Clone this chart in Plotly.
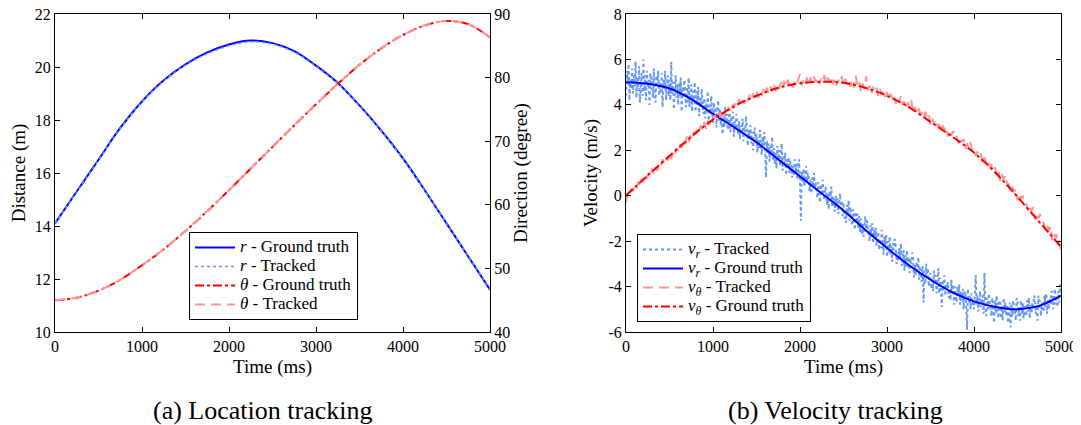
import plotly.graph_objects as go

# time grid for the smooth (ground truth) curves, ms
t_gt = [0, 250, 500, 750, 1000, 1250, 1500, 1750, 2000, 2250, 2500,
        2750, 3000, 3250, 3500, 3750, 4000, 4250, 4500, 4750, 5000]

# (a) location
r_gt = [14.1, 15.3, 16.5, 17.7, 18.7, 19.5, 20.1, 20.55, 20.85, 21.0, 20.9,
        20.6, 20.05, 19.4, 18.55, 17.6, 16.55, 15.35, 14.1, 12.85, 11.6]
r_tracked = [14.1, 15.28, 16.48, 17.68, 18.68, 19.47, 20.07, 20.5, 20.8, 20.95, 20.86,
             20.56, 20.02, 19.38, 18.53, 17.58, 16.53, 15.34, 14.1, 12.86, 11.62]
theta_gt = [45.0, 45.4, 46.5, 48.2, 50.5, 53.0, 55.9, 59.0, 62.3, 65.7, 69.1,
            72.5, 75.8, 79.0, 82.0, 84.6, 86.7, 88.2, 88.9, 88.4, 86.3]
theta_tracked = [45.0, 45.42, 46.5, 48.22, 50.5, 53.02, 55.9, 59.02, 62.3, 65.72, 69.1,
                 72.52, 75.8, 79.02, 82.0, 84.62, 86.7, 88.22, 88.9, 88.42, 86.3]

# (b) velocity
vr_gt = [5.0, 4.93, 4.72, 4.25, 3.6, 3.0, 2.35, 1.6, 0.85, 0.1, -0.65,
         -1.5, -2.3, -3.05, -3.7, -4.25, -4.65, -4.9, -5.0, -4.85, -4.4]
vt_gt = [0.0, 0.9, 1.75, 2.6, 3.35, 3.95, 4.4, 4.75, 4.95, 5.02, 4.97,
         4.75, 4.4, 3.9, 3.25, 2.6, 1.9, 1.0, -0.05, -1.15, -2.25]

# tracked radial velocity (one value every 10 ms)
t_vr = [i * 10 for i in range(501)]
vr_tracked = [
    4.4, 5.5, 4.9, 5.8, 4.2, 5.1, 4.7, 5.6, 4.5, 5.3,
    4.8, 5.9, 4.3, 5.2, 4.6, 5.7, 4.1, 5.0, 5.4, 4.4,
    6.0, 4.6, 5.3, 4.2, 5.5, 4.8, 5.1, 4.0, 5.4, 4.7,
    5.2, 4.3, 5.6, 4.7, 4.1, 5.3, 4.9, 5.5, 4.4, 5.0,
    4.5, 5.4, 3.9, 5.1, 4.7, 5.5, 4.2, 4.9, 5.3, 4.4,
    5.1, 4.2, 5.9, 4.5, 5.0, 3.8, 4.8, 5.3, 4.3, 4.9,
    4.0, 5.0, 4.4, 5.2, 3.7, 4.8, 4.3, 5.1, 4.6, 3.9,
    4.8, 4.1, 5.2, 3.9, 4.5, 4.9, 3.7, 4.6, 4.2, 5.0,
    3.7, 4.6, 4.0, 4.8, 3.5, 4.3, 3.9, 4.7, 4.1, 3.6,
    4.3, 3.4, 4.1, 3.7, 4.6, 3.3, 4.0, 3.6, 4.4, 3.8,
    3.2, 4.1, 3.5, 3.9, 3.0, 3.7, 4.2, 3.3, 3.8, 3.1,
    3.7, 2.7, 3.5, 3.0, 3.9, 3.2, 3.6, 2.9, 3.4, 3.8,
    2.8, 3.5, 3.0, 3.7, 2.6, 3.3, 2.9, 3.6, 3.1, 2.7,
    3.3, 2.5, 3.1, 2.7, 3.4, 2.4, 3.0, 2.8, 3.5, 2.6,
    2.2, 2.9, 2.5, 3.1, 2.3, 2.8, 2.0, 2.7, 3.0, 2.4,
    2.7, 1.9, 2.5, 2.1, 2.9, 2.3, 1.8, 2.6, 2.2, 2.8,
    1.7, 0.8, 2.4, 1.9, 2.3, 1.5, 2.2, 1.8, 2.6, 1.6,
    2.1, 1.4, 1.9, 1.2, 2.2, 1.6, 2.0, 1.3, 1.8, 2.3,
    1.1, 1.8, 1.3, 1.9, 0.9, 1.6, 1.2, 1.7, 1.0, 1.5,
    1.5, 0.8, 1.3, 0.9, 1.6, 1.0, 1.4, 0.7, 1.2, 1.6,
    0.5, -1.1, 1.1, 0.6, 1.2, 0.4, 0.9, 1.3, 0.6, 1.0,
    0.9, 0.2, 0.7, 0.1, 0.8, 0.4, 1.0, 0.3, 0.6, 0.2,
    -0.1, 0.6, 0.2, -0.3, 0.5, 0.0, 0.7, 0.1, -0.2, 0.4,
    0.3, -0.4, 0.1, -0.6, 0.2, -0.2, 0.4, -0.5, 0.0, -0.3,
    -0.7, 0.0, -0.5, -0.1, -0.8, -0.3, 0.1, -0.6, -0.2, -0.9,
    -0.3, -1.0, -0.6, -1.2, -0.4, -0.8, -0.2, -1.1, -0.5, -0.9,
    -1.3, -0.6, -1.1, -1.5, -0.7, -1.2, -0.8, -1.4, -0.9, -1.6,
    -1.0, -1.7, -1.2, -1.8, -1.4, -0.9, -1.6, -1.1, -1.5, -1.9,
    -2.0, -1.3, -1.8, -1.2, -2.1, -1.5, -1.9, -1.4, -2.2, -1.7,
    -1.6, -2.4, -1.9, -2.3, -1.5, -2.1, -2.6, -1.8, -2.2, -1.7,
    -2.7, -2.0, -2.5, -1.8, -2.6, -2.2, -2.9, -2.1, -2.4, -1.9,
    -2.2, -3.0, -2.5, -2.9, -2.3, -2.8, -2.1, -3.1, -2.6, -2.4,
    -3.3, -2.6, -3.1, -2.4, -3.2, -2.7, -3.4, -2.8, -3.0, -2.5,
    -2.8, -3.6, -3.0, -3.5, -2.9, -3.3, -2.7, -3.7, -3.1, -3.4,
    -3.8, -3.1, -4.7, -3.3, -3.9, -3.0, -3.6, -3.2, -4.0, -3.5,
    -3.4, -4.1, -3.6, -4.2, -3.3, -3.9, -3.5, -4.3, -3.8, -3.2,
    -4.3, -3.6, -4.0, -4.9, -3.7, -4.2, -3.5, -4.4, -3.9, -4.1,
    -3.8, -4.5, -4.1, -4.6, -3.7, -4.3, -3.9, -4.8, -4.0, -4.4,
    -4.7, -4.0, -4.4, -3.9, -4.8, -4.2, -4.6, -4.1, -5.0, -4.3,
    -4.2, -4.9, -5.9, -4.1, -4.7, -4.4, -5.0, -4.3, -4.8, -4.6,
    -5.0, -4.3, -3.5, -4.8, -4.4, -5.1, -4.6, -4.2, -4.9, -4.5,
    -4.4, -5.2, -3.4, -4.9, -5.3, -4.5, -5.0, -4.3, -4.7, -5.1,
    -5.3, -4.5, -5.0, -5.6, -4.6, -5.2, -4.4, -4.9, -5.4, -4.7,
    -4.6, -5.4, -4.9, -5.5, -4.5, -5.1, -4.7, -5.3, -4.8, -5.6,
    -5.4, -4.7, -5.8, -4.8, -5.3, -4.6, -5.2, -5.0, -5.5, -4.5,
    -4.6, -5.3, -4.9, -5.5, -4.6, -5.2, -4.7, -5.4, -4.8, -5.1,
    -5.3, -4.6, -5.1, -4.5, -5.4, -4.8, -5.2, -4.7, -5.0, -4.4,
    -4.5, -5.2, -4.8, -5.5, -4.4, -5.0, -4.6, -5.3, -4.7, -5.1,
    -5.1, -4.4, -4.9, -4.3, -5.2, -4.6, -5.0, -4.5, -4.8, -4.2,
    -4.3, -5.0, -4.5, -4.1, -4.8, -4.4, -4.9, -4.2, -4.7, -3.9,
    -4.2]

# tracked tangential velocity (one value every 20 ms)
t_vt = [i * 20 for i in range(251)]
vt_tracked = [
    -0.3, 0.15, 0.05, 0.3, 0.2, 0.45, 0.3, 0.6, 0.4, 0.75,
    0.6, 0.9, 0.75, 1.0, 0.85, 1.2, 0.95, 1.25, 1.1, 1.4,
    1.3, 1.6, 1.45, 1.7, 1.55, 1.9, 1.6, 1.95, 1.8, 2.1,
    2.0, 2.3, 2.1, 2.45, 2.25, 2.6, 2.35, 2.65, 2.5, 2.8,
    2.7, 3.0, 2.85, 3.1, 2.9, 3.25, 2.95, 3.3, 3.1, 3.4,
    3.3, 3.55, 3.4, 3.65, 3.45, 3.8, 3.5, 3.75, 3.6, 3.9,
    3.75, 4.05, 3.85, 4.1, 3.95, 4.25, 3.95, 4.2, 4.05, 4.35,
    4.15, 4.45, 4.25, 4.5, 4.3, 4.6, 4.3, 4.55, 4.4, 4.7,
    4.45, 4.75, 4.5, 4.8, 4.6, 4.95, 4.6, 4.85, 4.7, 5.0,
    4.7, 5.05, 4.8, 5.1, 4.85, 5.0, 4.75, 5.05, 4.9, 5.15,
    5.35, 4.85, 5.1, 4.9, 5.2, 4.9, 5.2, 4.95, 5.25, 5.0,
    5.2, 4.9, 5.15, 5.0, 5.3, 4.95, 5.2, 5.0, 5.25, 4.9,
    5.15, 4.85, 5.1, 4.95, 5.25, 4.85, 5.15, 4.9, 5.1, 4.8,
    5.1, 4.75, 5.3, 4.8, 5.0, 4.6, 4.95, 4.7, 5.25, 4.65,
    4.85, 4.5, 4.8, 4.55, 4.75, 4.4, 4.7, 4.45, 4.65, 4.35,
    4.55, 4.25, 4.5, 4.3, 4.45, 4.05, 4.35, 4.1, 4.4, 4.0,
    4.15, 3.85, 4.1, 3.9, 4.2, 3.65, 3.9, 3.7, 3.95, 3.6,
    3.65, 3.4, 3.7, 3.45, 3.6, 3.1, 3.4, 3.15, 3.35, 3.05,
    3.15, 2.85, 3.1, 2.9, 3.05, 2.6, 2.9, 2.65, 2.85, 2.55,
    2.6, 2.3, 2.55, 2.35, 2.5, 2.05, 2.3, 2.1, 2.35, 2.0,
    2.05, 1.75, 1.95, 1.7, 1.85, 1.4, 1.7, 1.45, 1.6, 1.3,
    1.35, 1.05, 1.25, 0.95, 1.15, 0.65, 0.95, 0.7, 0.9, 0.55,
    0.5, 0.2, 0.4, 0.15, 0.3, -0.2, 0.1, -0.15, 0.0, -0.3,
    -0.35, -0.65, -0.4, -0.7, -0.5, -1.05, -0.75, -1.0, -0.8, -1.15,
    -1.2, -1.5, -1.25, -1.55, -1.35, -1.95, -1.65, -1.9, -1.7, -2.05,
    -2.4]

vel_ticks = [-6, -4, -2, 0, 2, 4, 6, 8]
vel_ticktext = ["-6", "-4", "-2", "0", "2", "4", "6", "8"]

FONT = "Liberation Serif"
BLUE = "#0000ff"
LIGHTBLUE = "#6699f5"
RED = "#ff0000"
PINK = "#ff9696"


def leg(txt):
    return '<span style="font-size:17px">' + txt + "</span>"


fig = go.Figure()

# --- (a) location tracking
fig.add_trace(go.Scatter(x=t_gt, y=r_gt, mode="lines", name=leg("<i>r</i> - Ground truth"),
                         line=dict(color=BLUE, width=2, shape="spline"),
                         xaxis="x", yaxis="y", legend="legend"))
fig.add_trace(go.Scatter(x=t_gt, y=r_tracked, mode="lines", name=leg("<i>r</i> - Tracked"),
                         line=dict(color=LIGHTBLUE, width=1.5, dash="dot", shape="spline"),
                         xaxis="x", yaxis="y", legend="legend"))
fig.add_trace(go.Scatter(x=t_gt, y=theta_gt, mode="lines", name=leg("<i>θ</i> - Ground truth"),
                         line=dict(color=RED, width=2, dash="dashdot", shape="spline"),
                         xaxis="x", yaxis="y2", legend="legend"))
fig.add_trace(go.Scatter(x=t_gt, y=theta_tracked, mode="lines", name=leg("<i>θ</i> - Tracked"),
                         line=dict(color=PINK, width=2, dash="10px,6px", shape="spline"),
                         xaxis="x", yaxis="y2", legend="legend"))

# --- (b) velocity tracking
fig.add_trace(go.Scatter(x=t_vr, y=vr_tracked, mode="lines",
                         name=leg("<i>v<sub>r</sub></i> - Tracked"),
                         line=dict(color=LIGHTBLUE, width=2, dash="dot"),
                         xaxis="x2", yaxis="y3", legend="legend2"))
fig.add_trace(go.Scatter(x=t_gt, y=vr_gt, mode="lines",
                         name=leg("<i>v<sub>r</sub></i> - Ground truth"),
                         line=dict(color=BLUE, width=2, shape="spline"),
                         xaxis="x2", yaxis="y3", legend="legend2"))
fig.add_trace(go.Scatter(x=t_vt, y=vt_tracked, mode="lines",
                         name=leg("<i>v<sub>θ</sub></i> - Tracked"),
                         line=dict(color=PINK, width=2, dash="10px,6px"),
                         xaxis="x2", yaxis="y3", legend="legend2"))
fig.add_trace(go.Scatter(x=t_gt, y=vt_gt, mode="lines",
                         name=leg("<i>v<sub>θ</sub></i> - Ground truth"),
                         line=dict(color=RED, width=2, dash="dashdot", shape="spline"),
                         xaxis="x2", yaxis="y3", legend="legend2"))

axis_common = dict(showline=True, linecolor="black", linewidth=1, ticks="inside",
                   ticklen=5, tickcolor="black", showgrid=False, zeroline=False,
                   automargin=False, ticklabeloverflow="allow",
                   tickfont=dict(family=FONT, size=16, color="black"))
title_font = dict(family=FONT, size=19, color="black")

leg_common = dict(bgcolor="white", bordercolor="black", borderwidth=1,
                  font=dict(family=FONT, size=12, color="black"),
                  tracegroupgap=0, itemwidth=40, traceorder="normal")

# page has an 8px body margin, so the figure is laid out 8px up/left
FW, FH = 1073, 417
ML, MR, MT, MB = 47, 20, 6, 93
W = FW - ML - MR
H = FH - MT - MB


def px(x):
    return (x - ML) / W


def py(y):
    return (FH - MB - y) / H


fig.update_layout(
    width=FW, height=FH,
    margin=dict(l=ML, r=MR, t=MT, b=MB),
    paper_bgcolor="white", plot_bgcolor="white",
    font=dict(family=FONT, size=16, color="black"),
    xaxis=dict(domain=[0, px(482)], range=[0, 5000], dtick=1000, mirror="ticks",
               anchor="y", title=dict(text="Time (ms)", standoff=5, font=title_font),
               **axis_common),
    yaxis=dict(domain=[0, 1], range=[10, 22], dtick=2, anchor="x",
               title=dict(text="Distance (m)", standoff=8, font=title_font),
               **axis_common),
    yaxis2=dict(overlaying="y", side="right", range=[40, 90], dtick=10, anchor="x",
                title=dict(text="Direction (degree)", standoff=4, font=title_font),
                **axis_common),
    xaxis2=dict(domain=[px(618), 1], range=[0, 5000], dtick=1000, mirror="ticks",
                anchor="y3", title=dict(text="Time (ms)", standoff=5, font=title_font),
                **axis_common),
    yaxis3=dict(domain=[0, 1], range=[-6, 8], tickvals=vel_ticks, ticktext=vel_ticktext,
                anchor="x2", mirror="ticks",
                title=dict(text="Velocity (m/s)", standoff=5, font=title_font),
                **axis_common),
    legend=dict(x=px(265.5), y=py(312), xanchor="center", yanchor="bottom", **leg_common),
    legend2=dict(x=px(629), y=py(314), xanchor="left", yanchor="bottom", **leg_common),
    annotations=[
        dict(text="(a) Location tracking", x=px(254), y=py(402), xref="paper", yref="paper",
             xanchor="center", yanchor="middle", showarrow=False,
             font=dict(family=FONT, size=26, color="black")),
        dict(text="(b) Velocity tracking", x=px(827), y=py(402), xref="paper", yref="paper",
             xanchor="center", yanchor="middle", showarrow=False,
             font=dict(family=FONT, size=26, color="black")),
    ],
)

fig.write_html("out.html")
